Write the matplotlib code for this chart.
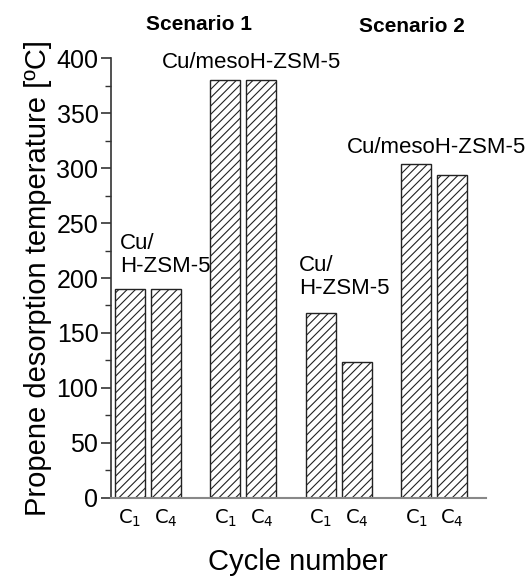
import matplotlib.pyplot as plt
from matplotlib.ticker import MultipleLocator

plt.rcParams['font.family'] = ['Liberation Sans', 'DejaVu Sans']
plt.rcParams['hatch.linewidth'] = 0.8

# bar positions (pairs C1/C4 per sample), values in deg C
positions = [1.0, 2.0, 3.65, 4.65, 6.3, 7.3, 8.95, 9.95]
temps = [190, 190, 380, 380, 168, 124, 304, 294]
cycle_labels = ['$\\mathrm{C_1}$', '$\\mathrm{C_4}$'] * 4
scenarios = ['Scenario 1', 'Scenario 2']

fig = plt.figure(figsize=(5.28, 5.81), dpi=100)
ax = fig.add_axes([0.210, 0.143, 0.710, 0.757])

ax.bar(positions, temps, width=0.83, color='white', edgecolor='#222222',
       linewidth=1.0, hatch='////')

ax.set_xlim(0.47, 10.88)
ax.set_ylim(0, 400)
ax.spines['top'].set_visible(False)
ax.spines['right'].set_visible(False)
ax.spines['left'].set_color('#333333')
ax.spines['bottom'].set_color('#888888')
ax.spines['bottom'].set_linewidth(1.5)
ax.spines['left'].set_linewidth(1.2)

ax.yaxis.set_major_locator(MultipleLocator(50))
ax.yaxis.set_minor_locator(MultipleLocator(25))
ax.tick_params(axis='y', which='major', direction='out', length=7, width=1.2,
               labelsize=18, color='#333333', pad=2)
ax.tick_params(axis='y', which='minor', direction='out', length=4, width=1.0,
               color='#333333')
ax.set_xticks(positions)
ax.set_xticklabels(cycle_labels, fontsize=14)
ax.tick_params(axis='x', length=0, pad=7)

ax.set_ylabel('Propene desorption temperature [ºC]', fontsize=21, labelpad=3)
ax.set_xlabel('Cycle number', fontsize=21, labelpad=14)

# sample labels
ax.text(0.72, 221, 'Cu/\nH-ZSM-5', fontsize=16, ha='left', va='center',
        linespacing=1.1)
ax.text(1.89, 396, 'Cu/mesoH-ZSM-5', fontsize=16, ha='left', va='center',
        clip_on=False)
ax.text(5.69, 201, 'Cu/\nH-ZSM-5', fontsize=16, ha='left', va='center',
        linespacing=1.1)
ax.text(7.02, 319, 'Cu/mesoH-ZSM-5', fontsize=16, ha='left', va='center',
        clip_on=False)

ax.text(2.91, 431, scenarios[0], fontsize=15, fontweight='bold',
        ha='center', va='center', clip_on=False)
ax.text(8.83, 429, scenarios[1], fontsize=15, fontweight='bold',
        ha='center', va='center', clip_on=False)

fig.savefig('out.png', dpi=100)
